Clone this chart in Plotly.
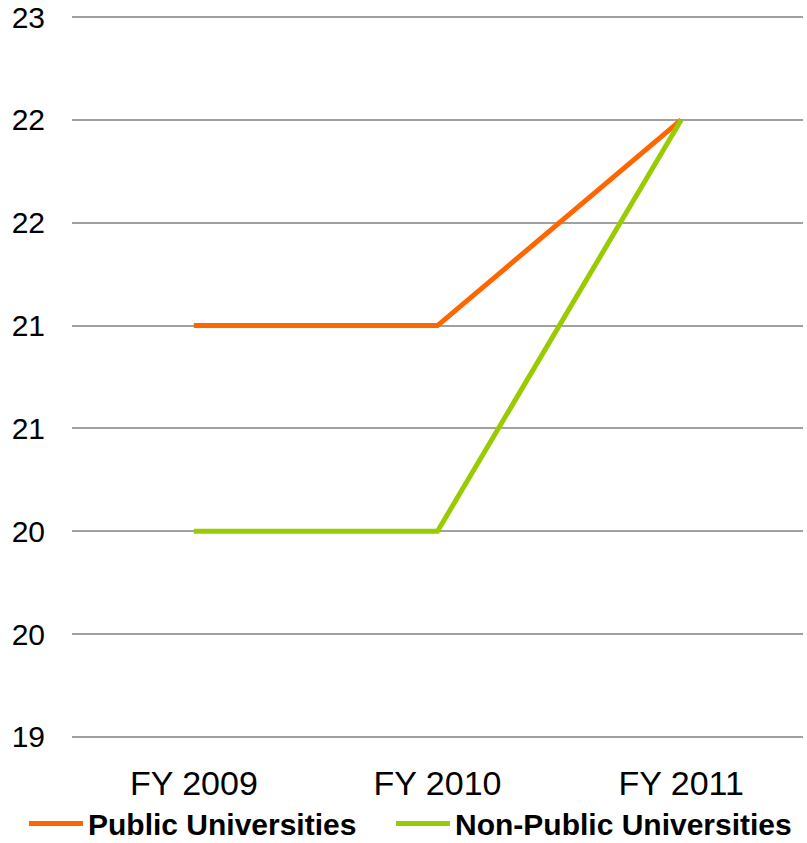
import plotly.graph_objects as go

categories = ["FY 2009", "FY 2010", "FY 2011"]
public_vals = [21, 21, 22]
nonpublic_vals = [20, 20, 22]
y_tickvals = [19, 19.5, 20, 20.5, 21, 21.5, 22, 22.5]
y_ticktext = ["19", "20", "20", "21", "21", "22", "22", "23"]

FONT = "Liberation Sans"

fig = go.Figure()
fig.add_trace(go.Scatter(x=categories, y=public_vals, mode="lines",
                         name="Public Universities", legend="legend",
                         line=dict(color="#FF6600", width=5)))
fig.add_trace(go.Scatter(x=categories, y=nonpublic_vals, mode="lines",
                         name="Non-Public Universities", legend="legend2",
                         line=dict(color="#99CC00", width=5)))

legend_font = dict(family=FONT, size=30, color="black", weight="bold")
fig.update_layout(
    width=807, height=843,
    margin=dict(l=72, r=4, t=13, b=102, autoexpand=False),
    paper_bgcolor="white", plot_bgcolor="white",
    font=dict(family=FONT, color="black"),
    showlegend=True,
    legend=dict(orientation="h", xref="container", yref="container",
                x=0.0297, xanchor="left", y=0.023, yanchor="middle",
                font=legend_font, itemwidth=54),
    legend2=dict(orientation="h", xref="container", yref="container",
                 x=0.4845, xanchor="left", y=0.023, yanchor="middle",
                 font=legend_font, itemwidth=54),
)
fig.update_xaxes(type="category", range=[-0.5, 2.5], showgrid=False,
                 showline=False, zeroline=False, ticks="",
                 tickfont=dict(size=34), ticklabelstandoff=19)
fig.update_yaxes(range=[18.98, 22.52], tickvals=y_tickvals, ticktext=y_ticktext,
                 showgrid=True, gridcolor="#A0A0A0", gridwidth=1.5,
                 zeroline=False, showline=False, ticks="",
                 tickfont=dict(size=30), ticklabelstandoff=26)

fig.write_html("out.html", config={"displayModeBar": False},
               post_script="document.body.style.margin='0';")
